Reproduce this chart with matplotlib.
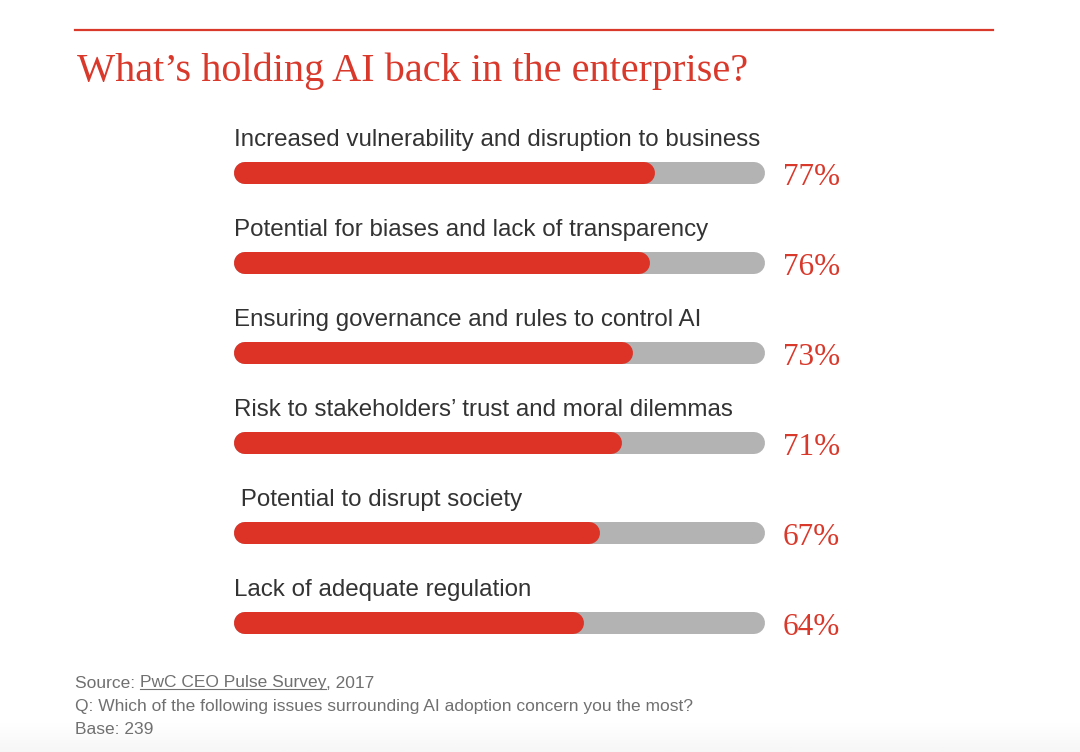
import numpy as np
import matplotlib.pyplot as plt
from matplotlib.lines import Line2D

# data
labels = [
    "Increased vulnerability and disruption to business",
    "Potential for biases and lack of transparency",
    "Ensuring governance and rules to control AI",
    "Risk to stakeholders\u2019 trust and moral dilemmas",
    " Potential to disrupt society",
    "Lack of adequate regulation",
]
values = [77, 76, 73, 71, 67, 64]
track_end = 97

title = "What\u2019s holding AI back in the enterprise?"
footer_q = "Q: Which of the following issues surrounding AI adoption concern you the most?"
footer_base = "Base: 239"

RED = '#dd3226'
TITLE_RED = '#d8392b'
GRAY = '#b3b3b3'
TXT = '#333333'
FOOT = '#707070'

W, H = 1080, 752
fig = plt.figure(figsize=(W / 100, H / 100), dpi=100)
fig.patch.set_facecolor('white')

# faint grey fade at the very bottom
bg = fig.add_axes([0, 0, 1, 30 / H], zorder=-1)
bg.imshow(np.linspace(0, 1, 50).reshape(-1, 1), aspect='auto', cmap='Greys',
          vmin=0, vmax=14, extent=[0, 1, 0, 1], origin='upper')
bg.axis('off')

# bar axes: x in percent, 5.47 px per percent
px_per = 5.47
ax = fig.add_axes([234 / W, 1 - 668 / H, 100 * px_per / W, 540 / H])
ax.set_xlim(0, 100)
ax.set_ylim(len(values) - 0.5, -0.5)
ax.axis('off')

bar_px = 22
lw = bar_px * 72 / 100
r = (bar_px / 2) / px_per  # cap radius in data units

for i, (lab, v) in enumerate(zip(labels, values)):
    ax.plot([r, track_end - r], [i, i], color=GRAY, lw=lw, solid_capstyle='round', zorder=1)
    ax.plot([r, v - r], [i, i], color=RED, lw=lw, solid_capstyle='round', zorder=2)
    ax.annotate(lab, (0, i), xytext=(0, 24), textcoords='offset points',
                ha='left', va='center', fontsize=17.4, color=TXT,
                family='Liberation Sans', annotation_clip=False)
    ax.annotate(f"{v}%", (100.3, i), xytext=(0, -3.5), textcoords='offset points',
                ha='left', va='center', fontsize=22.5, color=TITLE_RED,
                family='Liberation Serif', annotation_clip=False)

# top rule and title
fig.add_artist(Line2D([75 / W, 993 / W], [1 - 30 / H, 1 - 30 / H], color=TITLE_RED, lw=1.6))
fig.text(77 / W, 1 - 81 / H, title, ha='left', va='baseline', fontsize=29,
         color=TITLE_RED, family='Liberation Serif')

# footer
fs = 12.5
y1 = 1 - 683 / H
t1 = fig.text(75 / W, y1, "Source: ", ha='left', va='center', fontsize=fs, color=FOOT,
              family='Liberation Sans')
renderer = fig.canvas.get_renderer()
bb = t1.get_window_extent(renderer)
t2 = fig.text(bb.x1 / W, y1, "PwC CEO Pulse Survey", ha='left', va='center', fontsize=fs,
              color=FOOT, family='Liberation Sans')
bb2 = t2.get_window_extent(renderer)
fig.add_artist(Line2D([bb2.x0 / W, bb2.x1 / W], [(bb2.y0 + 2) / H, (bb2.y0 + 2) / H],
                      color=FOOT, lw=0.8))
fig.text(bb2.x1 / W, y1, ", 2017", ha='left', va='center', fontsize=fs, color=FOOT,
         family='Liberation Sans')
fig.text(75 / W, 1 - 706 / H, footer_q, ha='left', va='center', fontsize=fs, color=FOOT,
         family='Liberation Sans')
fig.text(75 / W, 1 - 729 / H, footer_base, ha='left', va='center', fontsize=fs, color=FOOT,
         family='Liberation Sans')

fig.savefig('out.png', dpi=100, facecolor='white')
